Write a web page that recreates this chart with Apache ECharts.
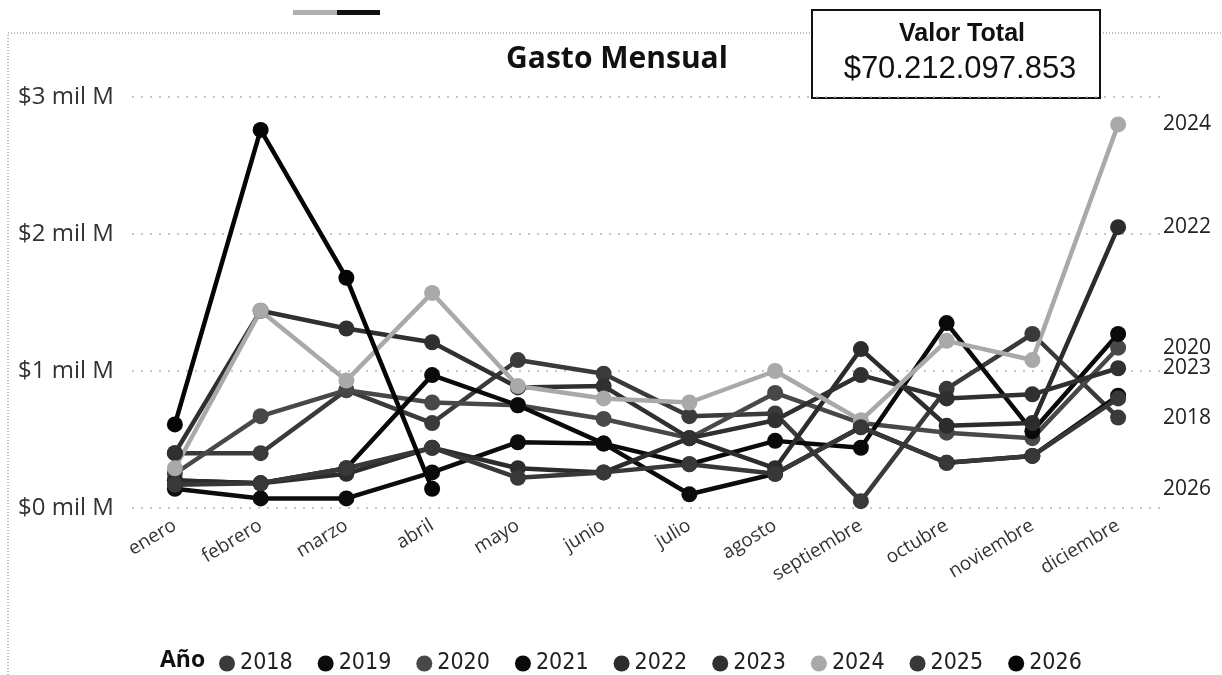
<!DOCTYPE html>
<html>
<head>
<meta charset="utf-8">
<style>
  html, body { margin: 0; padding: 0; background: #fff; }
  #chart { width: 1222px; height: 675px; }
</style>
<script src="https://cdn.jsdelivr.net/npm/echarts@6/dist/echarts.min.js"></script>
</head>
<body>
<div id="chart"></div>
<script>
// data (values in "mil M")
const months = ['enero', 'febrero', 'marzo', 'abril', 'mayo', 'junio', 'julio', 'agosto', 'septiembre', 'octubre', 'noviembre', 'diciembre']
const yTicks = [0, 1, 2, 3]
const years = ['2018', '2019', '2020', '2021', '2022', '2023', '2024', '2025', '2026']

const v2018 = [0.40, 0.40, 0.86, 0.62, 1.08, 0.98, 0.67, 0.69, 0.05, 0.87, 1.27, 0.66]
const v2019 = [0.14, 0.07, 0.07, 0.26, 0.48, 0.47, 0.10, 0.25, 0.59, 0.33, 0.38, 0.82]
const v2020 = [0.25, 0.67, 0.86, 0.77, 0.75, 0.65, 0.51, 0.84, 0.62, 0.55, 0.51, 1.17]
const v2021 = [0.20, 0.18, 0.29, 0.97, 0.75, 0.47, 0.32, 0.49, 0.44, 1.35, 0.56, 1.27]
const v2022 = [0.20, 0.18, 0.25, 0.44, 0.29, 0.26, 0.51, 0.29, 1.16, 0.60, 0.62, 2.05]
const v2023 = [0.40, 1.44, 1.31, 1.21, 0.88, 0.89, 0.51, 0.64, 0.97, 0.80, 0.83, 1.02]
const v2024 = [0.29, 1.44, 0.93, 1.57, 0.89, 0.80, 0.77, 1.00, 0.64, 1.22, 1.08, 2.80]
const v2025 = [0.17, 0.18, 0.29, 0.44, 0.22, 0.26, 0.32, 0.25, 0.59, 0.33, 0.38, 0.80]
const v2026 = [0.61, 2.76, 1.68, 0.14, null, null, null, null, null, null, null, null]

const values = {
  '2018': v2018, '2019': v2019, '2020': v2020, '2021': v2021, '2022': v2022,
  '2023': v2023, '2024': v2024, '2025': v2025, '2026': v2026
}
const colors = {
  '2018': '#3a3a3a', '2019': '#0c0c0c', '2020': '#484848', '2021': '#0a0a0a', '2022': '#2c2c2c',
  '2023': '#303030', '2024': '#a9a9a9', '2025': '#383838', '2026': '#050505'
}
// years whose name is written at the right of the plot, beside their last value
const labeled = ['2024', '2022', '2020', '2023', '2018', '2026']

const chart = echarts.init(document.getElementById('chart'))

const series = years.map(y => ({
  name: y,
  type: 'line',
  data: values[y],
  symbol: 'circle',
  symbolSize: 16,
  lineStyle: { width: 4.5, color: colors[y] },
  itemStyle: { color: colors[y] },
  emphasis: { disabled: true }
}))

const staticGraphics = [
  // dotted frame of the visual
  { type: 'polyline', silent: true, shape: { points: [[8, 675], [8, 33], [1222, 33]] },
    style: { stroke: '#777', lineWidth: 1, lineDash: [1, 2], fill: null } },
  // small bars at the top
  { type: 'rect', shape: { x: 293, y: 10, width: 44, height: 5 }, style: { fill: '#b0b0b0' } },
  { type: 'rect', shape: { x: 337, y: 10, width: 43, height: 5 }, style: { fill: '#111' } },
  { type: 'text', style: {
    x: 617, y: 59, text: 'Gasto Mensual', fontFamily: 'Open Sans', fontWeight: 'bold',
    fontSize: 30, fill: '#111', align: 'center', verticalAlign: 'middle' } },
  { type: 'rect', shape: { x: 812, y: 10, width: 288, height: 88 },
    style: { fill: '#fff', stroke: '#111', lineWidth: 2 } },
  { type: 'text', style: {
    x: 962, y: 34, text: 'Valor Total', fontFamily: 'Liberation Sans', fontWeight: 'bold',
    fontSize: 25, fill: '#111', align: 'center', verticalAlign: 'middle' } },
  { type: 'text', style: {
    x: 960, y: 69, text: '$70.212.097.853', fontFamily: 'Liberation Sans',
    fontSize: 31, fill: '#111', align: 'center', verticalAlign: 'middle' } },
  { type: 'text', style: {
    x: 160, y: 660, text: 'Año', fontFamily: 'Open Sans', fontWeight: 'bold',
    fontSize: 23, fill: '#111', verticalAlign: 'middle' } }
]

chart.setOption({
  animation: false,
  textStyle: { fontFamily: 'Open Sans' },
  grid: { left: 132, right: 61, top: 97, bottom: 167 },
  xAxis: {
    type: 'category',
    data: months,
    axisLine: { show: false },
    axisTick: { show: false },
    axisLabel: { rotate: 31, margin: 16, fontSize: 19, color: '#333', interval: 0 }
  },
  yAxis: {
    type: 'value',
    min: 0,
    max: 3,
    interval: 1,
    axisLine: { show: false },
    axisTick: { show: false },
    axisLabel: {
      align: 'left',
      margin: 114,
      fontSize: 24,
      color: '#333',
      formatter: v => yTicks.includes(v) ? '$' + v + ' mil M' : ''
    },
    splitLine: { lineStyle: { color: '#b5b5b5', type: [2, 7], width: 1.5 } }
  },
  legend: {
    left: 214,
    top: 647,
    icon: 'circle',
    itemWidth: 16,
    itemHeight: 16,
    itemGap: 25,
    textStyle: { fontFamily: "'DejaVu Sans Condensed', 'Open Sans'", fontSize: 23, color: '#222' },
    data: years.map(y => ({ name: y, itemStyle: { color: colors[y] } }))
  },
  graphic: staticGraphics,
  series: series
})

// year names at the right edge, at the height of each series' last value
const endLabels = labeled.map(y => {
  const data = values[y]
  let last = data.length - 1
  while (data[last] == null) last--
  const py = chart.convertToPixel({ gridIndex: 0 }, [last, data[last]])[1]
  return { type: 'text', style: {
    x: 1163, y: py, text: y, fontFamily: 'Open Sans', fontSize: 21,
    fill: '#222', verticalAlign: 'middle' } }
})
chart.setOption({ graphic: staticGraphics.concat(endLabels) })
</script>
</body>
</html>
